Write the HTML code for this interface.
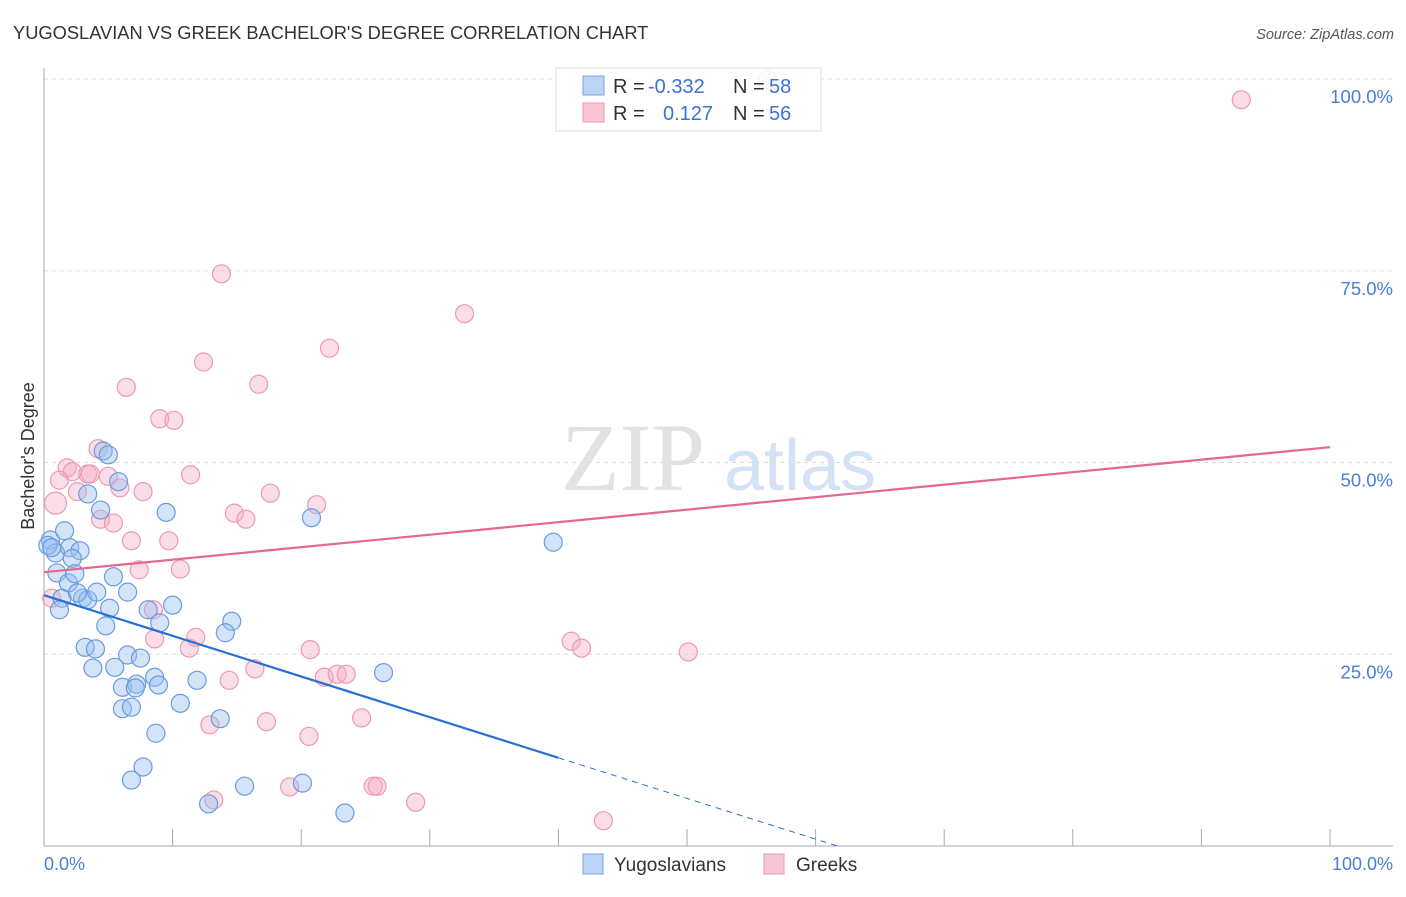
<!DOCTYPE html>
<html><head><meta charset="utf-8"><style>
body{margin:0;background:#fff;font-family:"Liberation Sans",sans-serif}
svg text{font-family:"Liberation Sans",sans-serif}
</style></head><body>
<svg id="chart" width="1406" height="892">
<text x="13" y="39" font-size="18.3" fill="#333">YUGOSLAVIAN VS GREEK BACHELOR'S DEGREE CORRELATION CHART</text>
<text x="1394" y="39" font-size="14.5" fill="#555" font-style="italic" text-anchor="end">Source: ZipAtlas.com</text>
<text x="633" y="490" font-size="96" fill="#e2e2e2" font-family="Liberation Serif" text-anchor="middle" style="font-family:'Liberation Serif',serif">ZIP</text>
<text x="800" y="490" font-size="72" fill="#d3e2f4" text-anchor="middle">atlas</text>
<g id="grid"></g>
<g id="points"></g>
<g id="lines"></g>
<text transform="translate(34,456) rotate(-90)" font-size="18" fill="#333" text-anchor="middle">Bachelor's Degree</text>
<text x="44" y="870" font-size="18" fill="#4a7fd4">0.0%</text>
<text x="1393" y="870" font-size="18" fill="#4a7fd4" text-anchor="end">100.0%</text>
<g>
<rect x="556" y="68" width="265" height="63" fill="rgba(255,255,255,0.85)" stroke="#ddd"/>
<rect x="583" y="76" width="21" height="19" fill="#bcd4f4" stroke="#7aa5e0"/>
<rect x="583" y="103" width="21" height="19" fill="#f9c6d4" stroke="#eb9ab2"/>
<text x="613" y="93" font-size="20" fill="#333">R = </text><text x="648" y="93" font-size="20" fill="#3b73d1">-0.332</text>
<text x="733" y="93" font-size="20" fill="#333">N = </text><text x="769" y="93" font-size="20" fill="#3b73d1">58</text>
<text x="613" y="120" font-size="20" fill="#333">R = </text><text x="663" y="120" font-size="20" fill="#3b73d1">0.127</text>
<text x="733" y="120" font-size="20" fill="#333">N = </text><text x="769" y="120" font-size="20" fill="#3b73d1">56</text>
</g>
<g>
<rect x="583" y="854" width="20" height="20" fill="#bcd4f4" stroke="#7aa5e0"/>
<text x="614" y="871" font-size="19" fill="#333">Yugoslavians</text>
<rect x="764" y="854" width="20" height="20" fill="#f9c6d4" stroke="#eb9ab2"/>
<text x="796" y="871" font-size="19" fill="#333">Greeks</text>
</g>
</svg>
<script>
const yTicks=[25,50,75,100];
const yTickLabels=["25.0%","50.0%","75.0%","100.0%"];
const xTicks=[0,10,20,30,40,50,60,70,80,90,100];
const blueX=[0.5,0.9,0.3,1.6,2.0,2.8,2.2,1.0,1.9,2.4,1.4,1.2,3.0,3.4,2.6,4.1,4.6,5.0,3.4,5.8,4.4,5.4,5.1,4.8,6.5,8.1,9.0,10.0,9.5,3.2,4.0,3.8,5.5,6.5,7.5,6.1,7.2,7.1,8.6,8.9,6.1,6.8,10.6,11.9,8.7,7.7,6.8,12.8,13.7,14.6,14.1,15.6,20.1,20.8,23.4,26.4,39.6,0.6];
const blueY=[39.9,38.2,39.2,41.1,38.9,38.5,37.5,35.6,34.3,35.5,32.3,30.8,32.3,32.1,33.0,33.1,51.5,51.0,45.9,47.5,43.8,35.1,31.0,28.7,33.1,30.8,29.1,31.4,43.5,25.9,25.7,23.2,23.3,24.9,24.5,20.7,21.1,20.6,22.0,21.0,17.9,18.1,18.6,21.6,14.7,10.3,8.6,5.5,16.6,29.3,27.8,7.8,8.2,42.8,4.3,22.6,39.6,38.9];
const pinkX=[56.3,93.1,13.8,32.7,22.2,12.4,6.4,16.7,9.0,10.1,4.2,1.8,2.2,3.4,3.6,5.0,1.2,0.9,2.6,5.9,7.7,11.4,17.6,21.2,4.4,5.4,14.8,15.7,6.8,9.7,7.4,10.6,8.5,8.6,11.3,11.8,20.7,41.0,41.8,50.1,16.4,14.4,21.8,22.8,23.5,24.7,12.9,17.3,20.6,19.1,25.6,25.9,28.9,13.2,43.5,0.6];
const pinkY=[99.9,97.3,74.6,69.4,64.9,63.1,59.8,60.2,55.7,55.5,51.8,49.3,48.8,48.5,48.5,48.2,47.7,44.7,46.2,46.7,46.2,48.4,46.0,44.5,42.6,42.1,43.4,42.6,39.8,39.8,36.0,36.1,30.8,27.0,25.8,27.2,25.6,26.7,25.8,25.3,23.1,21.6,22.0,22.4,22.4,16.7,15.8,16.2,14.3,7.7,7.8,7.8,5.7,6.0,3.3,32.3];
const blueTrend=[32.7,-0.53];
const pinkTrend=[35.7,0.163];
const NS="http://www.w3.org/2000/svg";
const X=v=>44+v*12.86, Y=v=>846-v*7.67;
function mk(t,a,p){const e=document.createElementNS(NS,t);for(const k in a)e.setAttribute(k,a[k]);p.appendChild(e);return e;}
const grid=document.getElementById('grid');
yTicks.forEach((t,i)=>{
 const l=mk('line',{x1:44,x2:1393,y1:Y(t),y2:Y(t),stroke:'#ddd','stroke-dasharray':'4,4'},grid);
 
 
 const tx=mk('text',{x:1393,y:Y(t)+24,'font-size':18.5,fill:'#4a7fd4','text-anchor':'end'},grid);
 tx.textContent=yTickLabels[i];
 
 
});
const ax=mk('line',{x1:44,x2:44,y1:68,y2:846,stroke:'#aaa'},grid);


const bx=mk('line',{x1:44,x2:1393,y1:846,y2:846,stroke:'#aaa'},grid);


xTicks.forEach(t=>{const l=mk('line',{x1:X(t),x2:X(t),y1:829,y2:846,stroke:'#aaa'},grid);
 
 });
const pts=document.getElementById('points');
pinkX.forEach((v,i)=>{const c=mk('circle',{cx:X(v),cy:Y(pinkY[i]),r:i==17?11:9,fill:'rgba(246,170,195,0.4)',stroke:'#eb9ab2','stroke-width':1.2},pts);
 
 });
blueX.forEach((v,i)=>{const c=mk('circle',{cx:X(v),cy:Y(blueY[i]),r:9,fill:'rgba(150,190,240,0.42)',stroke:'#6a9be0','stroke-width':1.2},pts);
 
 });
const ln=document.getElementById('lines');
const bz=-blueTrend[0]/blueTrend[1];
let l1=mk('line',{x1:X(0),y1:Y(blueTrend[0]),x2:X(40),y2:Y(blueTrend[0]+40*blueTrend[1]),stroke:'#2a6fd6','stroke-width':2.2},ln);


let l2=mk('line',{x1:X(40),y1:Y(blueTrend[0]+40*blueTrend[1]),x2:X(bz),y2:Y(0),stroke:'#2a6fd6','stroke-width':1,'stroke-dasharray':'6,5'},ln);


let l3=mk('line',{x1:X(0),y1:Y(pinkTrend[0]),x2:X(100),y2:Y(pinkTrend[0]+100*pinkTrend[1]),stroke:'#e5668e','stroke-width':2.2},ln);


</script>
</body></html>
